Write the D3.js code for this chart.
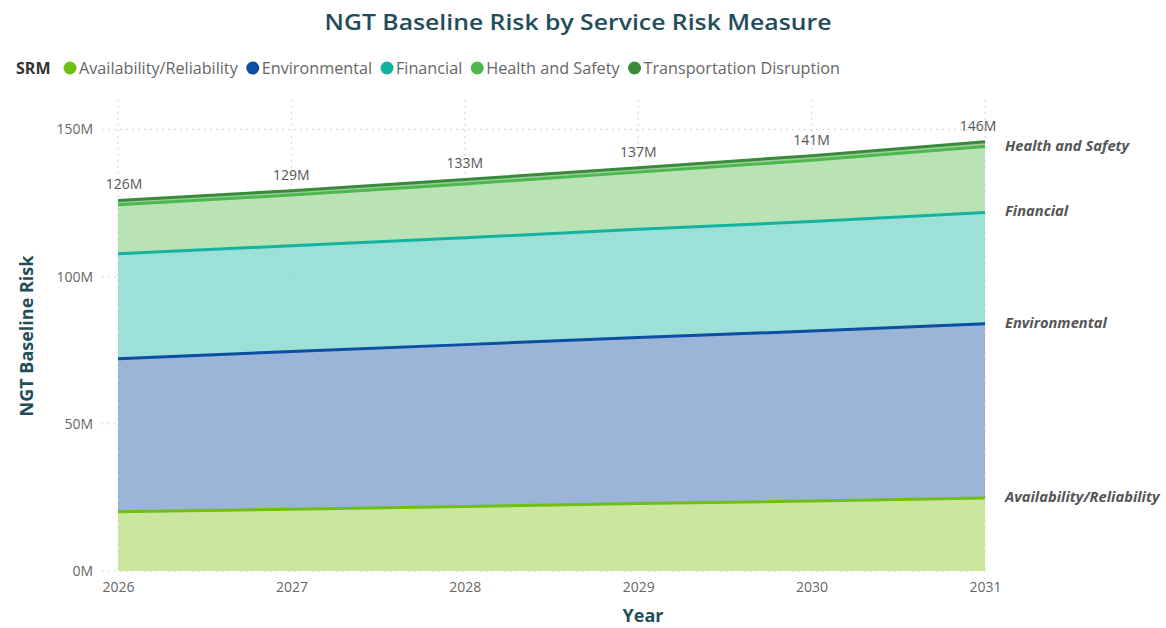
<!DOCTYPE html>
<html>
<head>
<meta charset="utf-8">
<script src="https://cdn.jsdelivr.net/npm/d3@7"></script>
<style>
  html, body { margin: 0; padding: 0; background: #ffffff; }
  svg { display: block; font-family: "Open Sans", "Noto Sans", sans-serif; }
</style>
</head>
<body>
<svg id="chart" width="1166" height="628"></svg>
<script>
// Years on the x axis
const years = [2026, 2027, 2028, 2029, 2030, 2031];

// Baseline risk per service risk measure (millions)
const availability   = [20.1, 21.0, 21.9, 22.9, 23.8, 24.8];
const environmental  = [52.0, 53.6, 55.0, 56.4, 57.7, 59.2];
const financial      = [35.7, 35.9, 36.3, 36.8, 37.2, 37.8];
const healthSafety   = [16.6, 17.2, 18.3, 19.4, 20.8, 22.4];
const transportation = [1.5, 1.5, 1.5, 1.5, 1.6, 1.6];

const seriesNames = ["Availability/Reliability", "Environmental", "Financial", "Health and Safety", "Transportation Disruption"];
const seriesValues = [availability, environmental, financial, healthSafety, transportation];

// Y axis tick values (millions)
const yTicks = [0, 50, 100, 150];

// Series to label at the right end of the chart
const endLabels = ["Health and Safety", "Financial", "Environmental", "Availability/Reliability"];

// Styling per series
const lineColors = {
  "Availability/Reliability": "#6fbf14",
  "Environmental": "#0b4ea2",
  "Financial": "#14b3a0",
  "Health and Safety": "#4db84d",
  "Transportation Disruption": "#3a8a3c"
};
const fillColors = {
  "Availability/Reliability": "#c4e492",
  "Environmental": "#8cabd3",
  "Financial": "#8edcd3",
  "Health and Safety": "#b1dfab",
  "Transportation Disruption": "#8fc58f"
};

// Build table for stacking
const table = years.map((yr, i) => {
  const row = { year: yr };
  seriesNames.forEach((n, k) => { row[n] = seriesValues[k][i]; });
  return row;
});

const stack = d3.stack().keys(seriesNames);
const layers = stack(table);
const totals = table.map(r => d3.sum(seriesNames, n => r[n]));

const svg = d3.select("#chart");

const x = d3.scaleLinear().domain([2026, 2031]).range([118, 985]);
const y = d3.scaleLinear().domain([0, 160]).range([571, 100]);

// Gridlines
const grid = svg.append("g").attr("class", "grid");
grid.selectAll("line.h").data(yTicks).join("line")
  .attr("class", "h")
  .attr("x1", 102).attr("x2", x(2031))
  .attr("y1", d => y(d)).attr("y2", d => y(d))
  .attr("stroke", "#c8c8c8").attr("stroke-width", 1)
  .attr("stroke-dasharray", "1.5,4.5");
grid.selectAll("line.v").data(years).join("line")
  .attr("class", "v")
  .attr("x1", d => x(d)).attr("x2", d => x(d))
  .attr("y1", y(160)).attr("y2", y(0))
  .attr("stroke", "#c8c8c8").attr("stroke-width", 1)
  .attr("stroke-dasharray", "1.5,4.5");

// Stacked areas
const area = d3.area()
  .x((d, i) => x(years[i]))
  .y0(d => y(d[0]))
  .y1(d => y(d[1]));

svg.append("g").selectAll("path").data(layers).join("path")
  .attr("d", area)
  .attr("fill", d => fillColors[d.key])
  .attr("fill-opacity", 0.88);

// Top boundary line of each layer
const line = d3.line()
  .x((d, i) => x(years[i]))
  .y(d => y(d[1]));

svg.append("g").selectAll("path").data(layers).join("path")
  .attr("d", line)
  .attr("fill", "none")
  .attr("stroke", d => lineColors[d.key])
  .attr("stroke-width", 3);

// Y axis
const yAxis = d3.axisLeft(y).tickValues(yTicks).tickFormat(d => d + "M").tickSize(0).tickPadding(0);
const gy = svg.append("g").attr("transform", "translate(93,0)").call(yAxis);
gy.select(".domain").remove();
gy.selectAll("text").attr("fill", "#666").style("font-size", "14px").style("font-family", "'Open Sans', sans-serif");

// X axis
const xAxis = d3.axisBottom(x).tickValues(years).tickFormat(d3.format("d")).tickSize(0).tickPadding(0);
const gx = svg.append("g").attr("transform", "translate(0,582)").call(xAxis);
gx.select(".domain").remove();
gx.selectAll("text").attr("fill", "#666").style("font-size", "14px").style("font-family", "'Open Sans', sans-serif");

// Total labels above each year
svg.append("g").selectAll("text").data(totals).join("text")
  .attr("x", (d, i) => Math.max(124, Math.min(978, x(years[i]))))
  .attr("y", (d, i) => y(d) - 11)
  .attr("text-anchor", "middle")
  .attr("fill", "#555")
  .style("font-size", "14px")
  .text(d => Math.round(d) + "M");

// Series labels at the right end
const lastLayer = Object.fromEntries(layers.map(l => [l.key, l[l.length - 1]]));
svg.append("g").selectAll("text").data(endLabels).join("text")
  .attr("x", 1005)
  .attr("y", d => y(lastLayer[d][1]) + 4)
  .attr("fill", "#555")
  .style("font-size", "14.7px")
  .style("font-weight", "bold")
  .style("font-style", "italic")
  .text(d => d);

// Title
svg.append("text")
  .attr("x", 578).attr("y", 30)
  .attr("text-anchor", "middle")
  .attr("fill", "#1f4e5a")
  .attr("textLength", 507)
  .attr("lengthAdjust", "spacingAndGlyphs")
  .style("font-size", "22px")
  .style("font-weight", "600")
  .text("NGT Baseline Risk by Service Risk Measure");

// Axis titles
svg.append("text")
  .attr("transform", "translate(33,336) rotate(-90)")
  .attr("text-anchor", "middle")
  .attr("fill", "#1f4e5a")
  .style("font-size", "18px")
  .style("font-weight", "bold")
  .text("NGT Baseline Risk");

svg.append("text")
  .attr("x", 643).attr("y", 622)
  .attr("text-anchor", "middle")
  .attr("fill", "#1f4e5a")
  .style("font-size", "18px")
  .style("font-weight", "bold")
  .text("Year");

// Legend
const legend = svg.append("g").attr("transform", "translate(16,74)");
legend.append("text")
  .attr("x", 0).attr("y", 0)
  .attr("fill", "#333")
  .style("font-size", "16px")
  .style("font-weight", "bold")
  .text("SRM");
let lx = 70 - 16;
seriesNames.forEach(n => {
  const g = legend.append("g").attr("transform", `translate(${lx},0)`);
  g.append("circle").attr("cx", 0).attr("cy", -6).attr("r", 6.5).attr("fill", lineColors[n]);
  const t = g.append("text").attr("x", 9).attr("y", 0)
    .attr("fill", "#666").style("font-size", "16.2px").text(n);
  lx += 9 + t.node().getComputedTextLength() + 15;
});
</script>
</body>
</html>
